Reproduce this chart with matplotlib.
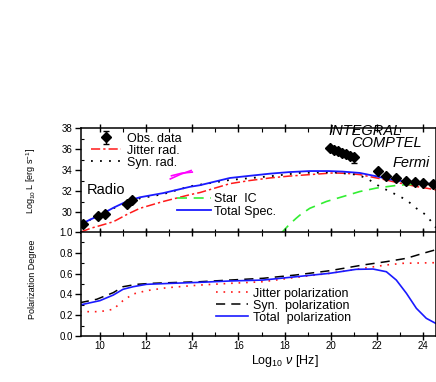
import matplotlib
matplotlib.use('Agg')
import matplotlib.pyplot as plt
from matplotlib.ticker import MultipleLocator

plt.rcParams['font.family'] = ['Liberation Sans', 'DejaVu Sans']
plt.rcParams['mathtext.fontset'] = 'custom'
plt.rcParams['mathtext.rm'] = 'Liberation Sans'
plt.rcParams['mathtext.it'] = 'Liberation Sans:italic'

# observed data (log nu, log L)
obs_x = [9.28, 9.93, 10.22, 11.16, 11.37,
         19.96, 20.12, 20.3, 20.48, 20.66, 20.84, 21.0,
         22.05, 22.41, 22.84, 23.28, 23.64, 24.0, 24.43]
obs_y = [28.9, 29.65, 29.78, 30.74, 31.1,
         36.1, 35.95, 35.78, 35.64, 35.5, 35.36, 35.25,
         33.88, 33.46, 33.24, 33.0, 32.85, 32.76, 32.69]
obs_err = [0] * 11 + [0.6] + [0] * 7

# optical bowtie
bow_x1 = [13.05, 13.5, 13.95]
bow_y1 = [33.15, 33.6, 33.95]
bow_x2 = [13.1, 13.55, 14.0]
bow_y2 = [33.45, 33.7, 33.8]

# spectra
tot_x = [9.18, 9.6, 10.0, 10.58, 11.2, 11.73, 12.74, 13.9, 14.33, 15.63, 16.5,
         17.36, 18.2, 19.09, 19.9, 20.5, 21.26, 21.98, 22.4, 22.84, 23.3, 23.7, 24.2, 24.56]
tot_y = [28.85, 29.3, 29.7, 30.4, 31.05, 31.4, 31.8, 32.4, 32.55, 33.24, 33.45,
         33.65, 33.8, 33.9, 33.9, 33.85, 33.72, 33.4, 33.18, 33.0, 32.9, 32.8, 32.7, 32.66]
jit_x = [9.18, 9.6, 10.0, 10.58, 11.2, 11.73, 12.74, 13.9, 14.33, 15.63, 16.5,
         17.36, 18.2, 19.09, 20.1, 20.7, 21.26, 21.98, 22.4, 22.84, 23.3, 23.7, 24.2, 24.56]
jit_y = [28.1, 28.45, 28.7, 29.07, 29.8, 30.35, 31.0, 31.65, 31.85, 32.7, 33.0,
         33.24, 33.42, 33.56, 33.72, 33.68, 33.56, 33.24, 33.05, 32.82, 32.62, 32.43, 32.25, 32.1]
syn_x = [9.18, 10.0, 10.58, 11.2, 11.73, 12.74, 13.9, 15.63, 17.36, 18.66, 20.1,
         21.1, 21.54, 22.12, 22.7, 23.28, 23.71, 24.14, 24.36, 24.56]
syn_y = [28.85, 29.7, 30.35, 30.95, 31.3, 31.7, 32.45, 33.05, 33.4, 33.72, 33.78,
         33.56, 33.24, 32.43, 31.8, 31.15, 30.35, 29.7, 29.07, 28.5]
star_x = [17.86, 18.2, 18.5, 18.66, 19.09, 19.81, 20.53, 21.26, 21.98, 22.84, 23.7, 24.56]
star_y = [28.0, 28.8, 29.4, 29.7, 30.35, 31.0, 31.47, 31.95, 32.28, 32.53, 32.66, 32.66]

# polarization degree
pj_x = [9.13, 10.0, 10.58, 11.0, 11.44, 12.02, 12.89, 14.33, 15.63, 17.07, 18.5,
        19.96, 21.4, 22.41, 23.13, 24.56]
pj_y = [0.234, 0.234, 0.257, 0.34, 0.404, 0.436, 0.464, 0.49, 0.506, 0.522, 0.564,
        0.603, 0.651, 0.683, 0.699, 0.705]
ps_x = [9.13, 9.86, 10.58, 11.0, 11.59, 12.31, 13.46, 14.33, 15.63, 17.07, 18.5,
        19.96, 21.4, 22.41, 23.28, 24.0, 24.56]
ps_y = [0.32, 0.353, 0.417, 0.474, 0.497, 0.507, 0.516, 0.522, 0.538, 0.555, 0.587,
        0.628, 0.683, 0.715, 0.747, 0.795, 0.83]
pt_x = [9.13, 10.0, 10.58, 11.0, 11.44, 12.02, 13.17, 14.33, 15.63, 17.07, 18.5,
        19.96, 21.1, 21.83, 22.41, 22.84, 23.28, 23.71, 24.14, 24.56]
pt_y = [0.298, 0.34, 0.394, 0.449, 0.474, 0.497, 0.507, 0.516, 0.529, 0.538, 0.57,
        0.603, 0.641, 0.644, 0.618, 0.538, 0.41, 0.266, 0.17, 0.12]

red = '#ff1a1a'
blue = '#1a1aff'
green = '#33ee33'

fig = plt.figure(figsize=(4.36, 3.82), dpi=100)
ax1 = fig.add_axes([81 / 436, 1 - 233 / 382, 355 / 436, 105 / 382])
ax2 = fig.add_axes([81 / 436, 1 - 336 / 382, 355 / 436, 104 / 382])

# ---- top panel
ax1.plot(jit_x, jit_y, color=red, lw=1.1, ls=(0, (6, 2, 1.5, 2)), label='Jitter rad.')
ax1.plot(syn_x, syn_y, color='k', lw=1.3, ls=(0, (1, 4)), label='Syn. rad.')
ax1.plot(star_x, star_y, color=green, lw=1.2, ls=(0, (6, 4)), label='Star  IC')
ax1.plot(tot_x, tot_y, color=blue, lw=1.3, label='Total Spec.')
ax1.errorbar(obs_x, obs_y, yerr=[obs_err, [0] * len(obs_err)], fmt='D', color='k',
             ms=5, elinewidth=1, capsize=2, label='Obs. data', zorder=5)
ax1.plot(bow_x1, bow_y1, color='#ff00ff', lw=1.2)
ax1.plot(bow_x2, bow_y2, color='#ff00ff', lw=1.2)

h, l = ax1.get_legend_handles_labels()
leg1 = ax1.legend([h[4], h[0], h[1]], [l[4], l[0], l[1]], loc='upper left',
                  bbox_to_anchor=(0.028, 0.955), frameon=False, fontsize=9,
                  borderpad=0, labelspacing=0.0, handlelength=2.4,
                  handletextpad=0.45, borderaxespad=0)
ax1.add_artist(leg1)
ax1.legend([h[2], h[3]], [l[2], l[3]], loc='upper left',
           bbox_to_anchor=(0.27, 0.38), frameon=False, fontsize=9,
           borderpad=0, labelspacing=0.05, handlelength=2.7,
           handletextpad=0.25, borderaxespad=0)

ax1.text(9.45, 32.1, 'Radio', fontsize=10.5, va='center', ha='left')
ax1.text(21.5, 37.75, 'INTEGRAL', fontsize=10.5, style='italic', ha='center',
         va='center', clip_on=False)
ax1.text(22.4, 36.6, 'COMPTEL', fontsize=10.5, style='italic', ha='center', va='center')
ax1.text(23.5, 34.7, 'Fermi', fontsize=10.5, style='italic', ha='center', va='center')

ax1.set_xlim(9.18, 24.56)
ax1.set_ylim(28, 38)
ax1.set_yticks([30, 32, 34, 36, 38])
ax1.yaxis.set_minor_locator(MultipleLocator(1))

# ---- bottom panel
ax2.plot(pj_x, pj_y, color=red, lw=1.2, ls=(0, (1, 3.5)), label='Jitter polarization')
ax2.plot(ps_x, ps_y, color='k', lw=1.1, ls=(0, (6, 4)), label='Syn.  polarization')
ax2.plot(pt_x, pt_y, color=blue, lw=1.2, label='Total  polarization')
ax2.legend(loc='upper left', bbox_to_anchor=(0.38, 0.466), frameon=False,
           fontsize=9, borderpad=0, labelspacing=0.0, handlelength=2.55,
           handletextpad=0.4, borderaxespad=0)
ax2.set_xlim(9.18, 24.56)
ax2.set_ylim(0, 1)
ax2.set_yticks([0, 0.2, 0.4, 0.6, 0.8, 1.0])
ax2.set_yticklabels(['0.0', '0.2', '0.4', '0.6', '0.8', '1.0'])
ax2.yaxis.set_minor_locator(MultipleLocator(0.1))

for ax in (ax1, ax2):
    ax.set_xticks([10, 12, 14, 16, 18, 20, 22, 24])
    ax.xaxis.set_minor_locator(MultipleLocator(1))
    ax.tick_params(axis='x', which='major', direction='inout', length=6, width=1,
                   top=True, bottom=True, labelsize=7, pad=0.5)
    ax.tick_params(axis='x', which='minor', direction='in', length=3, width=0.8,
                   top=True, bottom=True)
    ax.tick_params(axis='y', which='major', direction='out', length=4, width=1,
                   labelsize=7, pad=2)
    ax.tick_params(axis='y', which='minor', direction='in', length=2.5, width=0.8)
    for s in ax.spines.values():
        s.set_linewidth(1.1)
ax1.tick_params(axis='x', which='both', labelbottom=False)

fig.text(31 / 436, 1 - 181 / 382, r'Log$_{10}$ L [erg s$^{-1}$]', rotation=90,
         ha='center', va='center', fontsize=6.5)
fig.text(32 / 436, 1 - 279 / 382, 'Polarization Degree', rotation=90,
         ha='center', va='center', fontsize=6.5)
fig.text(285 / 436, 1 - 361 / 382, r'Log$_{10}$ $\nu$ [Hz]', ha='center',
         va='center', fontsize=9)

fig.savefig('out.png', dpi=100)
